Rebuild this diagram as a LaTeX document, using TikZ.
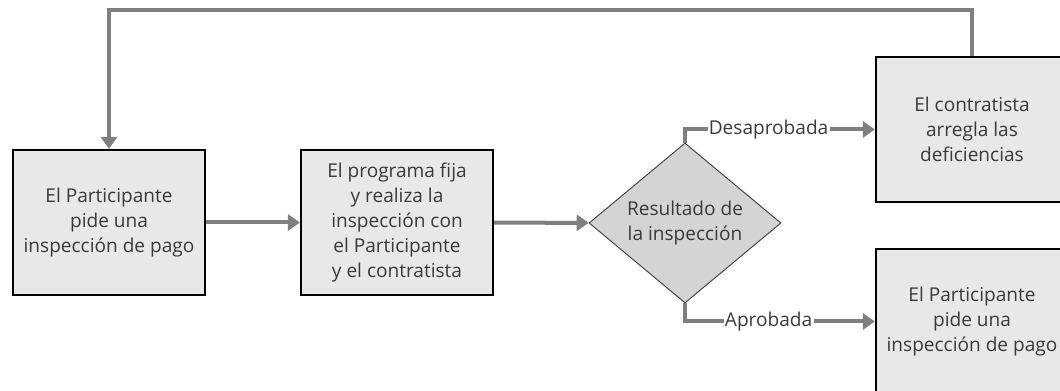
\documentclass[tikz,border=0pt]{standalone}
\usepackage{fontspec}
\setmainfont{Open Sans}
\usetikzlibrary{shapes.geometric,arrows.meta}

\definecolor{boxfill}{HTML}{E8E8E8}
\definecolor{diafill}{HTML}{D4D4D4}
\definecolor{linegray}{HTML}{7F7F7F}
\definecolor{textgray}{HTML}{3A3A3A}

\tikzset{
  stepbox/.style={draw=black, line width=1.6pt, fill=boxfill, minimum width=144pt,
    minimum height=108.75pt, align=center, text=textgray, font=\fontsize{14.3}{18.75}\selectfont},
  decision/.style={diamond, draw=black!75, line width=0.7pt, fill=diafill, minimum width=144pt,
    minimum height=106.5pt, inner sep=0pt, align=center, text=textgray, font=\fontsize{14.3}{18.75}\selectfont},
  flow/.style={draw=linegray, line width=3pt, -{Triangle[length=9pt,width=12pt]}},
  choice/.style={fill=white, inner sep=1pt, text=textgray, font=\fontsize{14.3}{15}\selectfont}
}

\begin{document}
\begin{tikzpicture}[x=0.75pt, y=0.75pt]
  \path[use as bounding box, clip] (0,0) rectangle (1060,391);

  \node[stepbox] (pide) at (109,168.5) {El Participante\\pide una\\inspección de pago};
  \node[stepbox] (programa) at (397,168.5) {El programa fija\\y realiza la\\inspección con\\el Participante\\y el contratista};
  \node[decision] (resultado) at (685,168) {Resultado de\\la inspección};
  \node[stepbox] (arregla) at (972,261.5) {El contratista\\arregla las\\deficiencias};
  \node[stepbox] (pagar) at (972,69.5) {El Participante\\pide una\\inspección de pago};

  \draw[flow] (pide) -- (programa);
  \draw[flow] (programa) -- (resultado);
  \draw[flow] (resultado.north) |- node[choice, pos=0.72] {Desaprobada} (arregla.west);
  \draw[flow] (resultado.south) |- node[choice, pos=0.72] {Aprobada} (pagar.west);
  \draw[flow] (arregla.north) -- (972,381) -| (pide.north);
\end{tikzpicture}
\end{document}
